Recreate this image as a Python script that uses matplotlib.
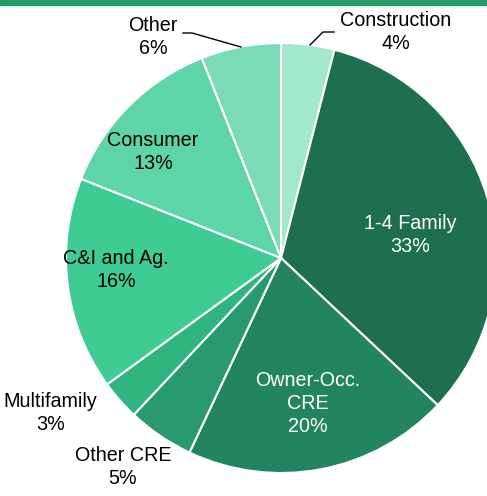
import matplotlib.pyplot as plt
from matplotlib.patches import Rectangle

plt.rcParams['font.family'] = ['Liberation Sans', 'DejaVu Sans']

labels = ['Construction', '1-4 Family', 'Owner-Occ.\nCRE', 'Other CRE',
          'Multifamily', 'C&I and Ag.', 'Consumer', 'Other']
shares = [4, 33, 20, 5, 3, 16, 13, 6]
colors = ['#a3e7cc', '#1e6f50', '#22855f', '#289a6e', '#30b580',
          '#3ecc94', '#5dd5a7', '#7adbb6']

# label positions in pie units (center = 0,0, radius = 1) and text colours
label_pos = [(0.535, 1.052), (0.60, 0.107), (0.126, -0.676), (-0.735, -0.972),
             (-1.074, -0.721), (-0.767, -0.056), (-0.595, 0.493), (-0.595, 1.028)]
label_col = ['black', 'white', 'white', 'black', 'black', 'black', 'black', 'black']

W, H = 487, 496
fig = plt.figure(figsize=(W / 100, H / 100), dpi=100)

# pie centre and radius in pixels
cx, cy, r = 281, 496 - 258, 215
ax = fig.add_axes([(cx - r) / W, (cy - r) / H, 2 * r / W, 2 * r / H])
ax.pie(shares, colors=colors, startangle=90, counterclock=False, radius=1,
       wedgeprops=dict(edgecolor='white', linewidth=1.5))
ax.set_xlim(-1, 1)
ax.set_ylim(-1, 1)
ax.set_aspect('equal')
ax.axis('off')
for p in ax.patches:
    p.set_clip_on(False)

for lab, val, (x, y), c in zip(labels, shares, label_pos, label_col):
    ax.text(x, y, f'{lab}\n{val}%', ha='center', va='center', fontsize=14.2,
            color=c, linespacing=1.27, clip_on=False)

# leader lines
def px(x, y):
    return (x - 281) / r, (258 - y) / r

ax.plot(*zip(px(310, 45), px(323, 32), px(334, 32)), color='black', lw=1, clip_on=False)
ax.plot(*zip(px(183, 33), px(192, 33), px(241, 47)), color='black', lw=1, clip_on=False)

# green band at the top
fig.patches.append(Rectangle((0, 1 - 5 / H), 1, 5 / H, transform=fig.transFigure,
                             color='#259a6c', zorder=5))

fig.savefig('out.png', dpi=100)
